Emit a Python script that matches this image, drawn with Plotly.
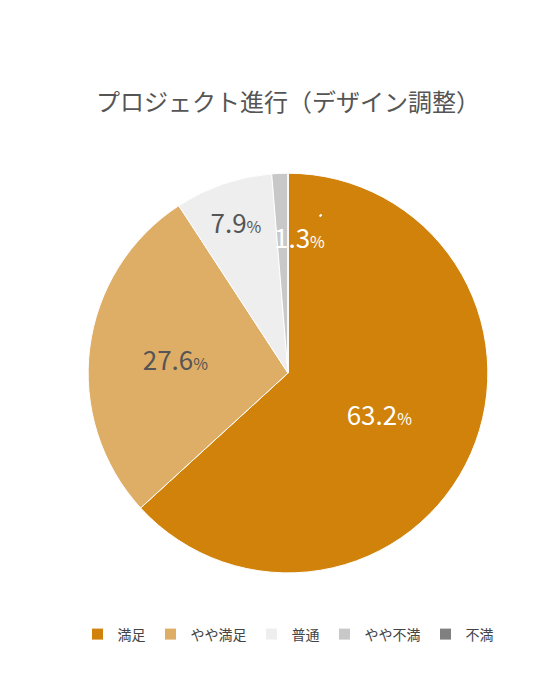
import plotly.graph_objects as go

labels = ["満足", "やや満足", "普通", "やや不満", "不満"]
values = [63.2, 27.6, 7.9, 1.3, 0.0]
colors = ["#D0820A", "#DFAE66", "#EEEEEE", "#C8C8C8", "#808080"]
text_colors = ["white", "#555555", "#555555", "white", "white"]

def fmt(v):
    return f"{v}<span style='font-size:16px'>%</span>"

texts = [fmt(v) if v >= 5 else "" for v in values]

fig = go.Figure(go.Pie(
    labels=labels,
    values=values,
    marker=dict(colors=colors, line=dict(color="white", width=1)),
    sort=False,
    direction="clockwise",
    rotation=0,
    text=texts,
    textinfo="text",
    textposition="inside",
    insidetextorientation="horizontal",
    textfont=dict(size=26, color=text_colors, family="Noto Sans CJK JP"),
    domain=dict(x=[0.143, 0.857], y=[0.193, 0.764]),
    showlegend=True,
    hoverinfo="label+percent",
))

# small slice label drawn outside over the big slice, with white leader line
fig.add_annotation(
    x=0.56, y=0.705, xref="paper", yref="paper",
    text=fmt(values[3]), showarrow=True, arrowhead=0,
    arrowcolor="white", arrowwidth=2, ax=-22, ay=22,
    xanchor="center", yanchor="middle",
    font=dict(size=26, color="white", family="Noto Sans CJK JP"),
)

fig.update_layout(
    width=560, height=700,
    margin=dict(l=0, r=0, t=0, b=0),
    paper_bgcolor="white",
    title=dict(text="プロジェクト進行（デザイン調整）", x=0.5, y=0.865,
               xanchor="center", yanchor="middle",
               font=dict(size=24, color="#555555", family="Noto Sans CJK JP")),
    legend=dict(orientation="h", x=0.5, xanchor="center", y=0.105, yanchor="middle",
                font=dict(size=14, color="#444444", family="Noto Sans CJK JP"),
                itemwidth=30, traceorder="normal"),
)

fig.write_html("out.html")
